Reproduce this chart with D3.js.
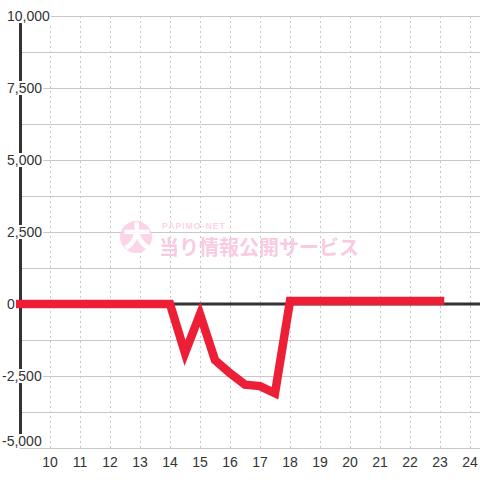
<!DOCTYPE html>
<html>
  <head>
    <meta charset="UTF-8">
    <title>Slump chart</title>
    <script src="https://cdn.jsdelivr.net/npm/d3@7"></script>
    <style>
      body { margin: 0; background: #fff; }
      svg { display: block; font-family: "Liberation Sans", Arial, sans-serif; }
    </style>
  </head>
  <body>
    <svg width="480" height="480"></svg>
    <script>

    // hours (every half hour) and the balance at each point
    var hours = [9, 9.5, 10, 10.5, 11, 11.5, 12, 12.5, 13, 13.5, 14,
                 14.5, 15, 15.5, 16, 16.5, 17, 17.5, 18,
                 18.5, 19, 19.5, 20, 20.5, 21, 21.5, 22, 22.5, 23];
    var balance = [0, 0, 0, 0, 0, 0, 0, 0, 0, 0, 0,
                   -1700, -350, -1950, -2400, -2800, -2850, -3100, 100,
                   100, 100, 100, 100, 100, 100, 100, 100, 100, 100];

    var xTicks = [10, 11, 12, 13, 14, 15, 16, 17, 18, 19, 20, 21, 22, 23, 24];
    var yLabels = [10000, 7500, 5000, 2500, 0, -2500, -5000];
    var yGrid = d3.range(-5000, 10001, 1250);

    var svg = d3.select("svg");

    var x = d3.scaleLinear()
      .domain([9, 24 + 1 / 3])
      .range([20, 480]);

    var y = d3.scaleLinear()
      .domain([-5000, 10000])
      .range([448, 16]);

    // horizontal grid
    svg.append("g").selectAll("line")
      .data(yGrid)
      .enter().append("line")
      .attr("x1", x(9)).attr("x2", 480)
      .attr("y1", function(d) { return Math.round(y(d)) + 0.5; })
      .attr("y2", function(d) { return Math.round(y(d)) + 0.5; })
      .attr("stroke", "#c8c8c8")
      .attr("stroke-width", 1);

    // vertical dashed grid
    svg.append("g").selectAll("line")
      .data(xTicks)
      .enter().append("line")
      .attr("x1", function(d) { return Math.round(x(d)) + 0.5; })
      .attr("x2", function(d) { return Math.round(x(d)) + 0.5; })
      .attr("y1", y(10000)).attr("y2", y(-5000))
      .attr("stroke", "#c8c8c8")
      .attr("stroke-dasharray", "2,3");

    // zero line and y axis line
    svg.append("line")
      .attr("x1", x(9)).attr("x2", 480)
      .attr("y1", y(0)).attr("y2", y(0))
      .attr("stroke", "#333").attr("stroke-width", 3);

    svg.append("line")
      .attr("x1", x(9) + 0.5).attr("x2", x(9) + 0.5)
      .attr("y1", y(10000)).attr("y2", y(-5000))
      .attr("stroke", "#333").attr("stroke-width", 3);

    // watermark
    var wm = svg.append("g").attr("opacity", 0.9);
    wm.append("circle")
      .attr("cx", 136).attr("cy", 237).attr("r", 16)
      .attr("fill", "#fbd0e5");
    wm.append("text")
      .attr("x", 137).attr("y", 247)
      .attr("text-anchor", "middle")
      .attr("font-family", "Noto Sans CJK JP")
      .attr("font-weight", "900")
      .attr("font-size", 28)
      .attr("fill", "#fff")
      .text("大");
    wm.append("text")
      .attr("x", 162).attr("y", 229)
      .attr("font-size", 8.5)
      .attr("font-weight", "bold")
      .attr("letter-spacing", 1.1)
      .attr("fill", "#fbd0e5")
      .text("PAPIMO-NET");
    wm.append("text")
      .attr("x", 159).attr("y", 255)
      .attr("font-family", "Noto Sans CJK JP")
      .attr("font-weight", "bold")
      .attr("font-size", 20)
      .attr("fill", "#f9c6df")
      .text("当り情報公開サービス");

    // balance line
    var line = d3.line()
      .x(function(d, i) { return x(hours[i]); })
      .y(function(d) { return y(d); });

    svg.append("path")
      .datum(balance)
      .attr("d", line)
      .attr("fill", "none")
      .attr("stroke", "#ed1f36")
      .attr("stroke-width", 8.5)
      .attr("stroke-linecap", "square")
      .attr("stroke-linejoin", "miter");

    // y labels with white background
    var yl = svg.append("g").selectAll("g")
      .data(yLabels)
      .enter().append("g");

    yl.append("text")
      .attr("x", function(d) { return d < 0 ? 2 : 7; })
      .attr("y", function(d) { return Math.min(y(d), 441); })
      .attr("dy", "0.36em")
      .attr("font-size", 14)
      .attr("fill", "#333")
      .text(function(d) { return d3.format(",")(d).replace("−", "-"); });

    yl.insert("rect", "text")
      .each(function() {
        var b = this.parentNode.querySelector("text").getBBox();
        d3.select(this)
          .attr("x", b.x - 1).attr("y", b.y + 1)
          .attr("width", b.width + 2).attr("height", b.height - 2)
          .attr("fill", "#fff");
      });

    // x labels
    svg.append("g").selectAll("text")
      .data(xTicks)
      .enter().append("text")
      .attr("x", function(d) { return x(d); })
      .attr("y", 462)
      .attr("dy", "0.36em")
      .attr("text-anchor", "middle")
      .attr("font-size", 14)
      .attr("fill", "#333")
      .text(function(d) { return d; });

    </script>
  </body>
</html>
